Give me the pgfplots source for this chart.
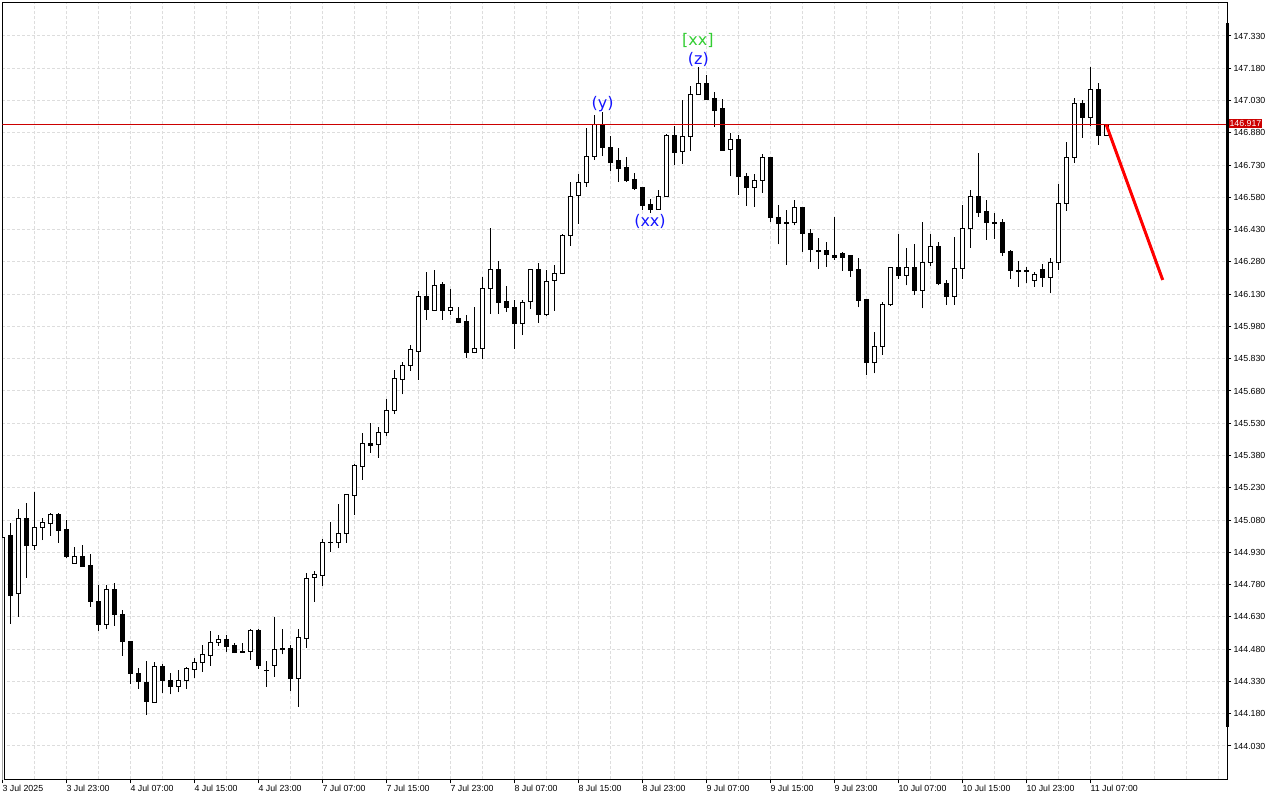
\documentclass[border=0pt]{standalone}
\usepackage{pgfplots}
\pgfplotsset{compat=1.18}
\usepackage{pgfplotstable}
\usepackage{fontspec}
\setmainfont{Liberation Sans}
\newfontfamily\annfont{DejaVu Sans}
\definecolor{gridc}{RGB}{221,221,221}
\definecolor{pricered}{RGB}{204,0,0}
\definecolor{fcred}{RGB}{255,0,0}
\definecolor{lblue}{RGB}{20,20,255}
\definecolor{lgreen}{RGB}{50,205,50}

\pgfplotstableread{
i o h l c
-1 143.800 145.030 143.700 145.001
0 145.006 145.068 144.597 144.729
1 144.738 145.132 144.631 145.088
2 145.088 145.159 144.812 144.961
3 144.963 145.209 144.941 145.046
4 145.046 145.090 144.987 145.070
5 145.065 145.113 145.008 145.104
6 145.104 145.113 144.975 145.031
7 145.037 145.080 144.905 144.910
8 144.879 144.955 144.879 144.912
9 144.912 144.964 144.864 144.865
10 144.870 144.922 144.678 144.702
11 144.702 144.778 144.566 144.596
12 144.596 144.778 144.572 144.755
13 144.755 144.788 144.589 144.640
14 144.642 144.662 144.450 144.515
15 144.516 144.516 144.317 144.368
16 144.369 144.391 144.296 144.331
17 144.323 144.425 144.176 144.238
18 144.233 144.419 144.233 144.400
19 144.400 144.411 144.278 144.334
20 144.335 144.369 144.270 144.307
21 144.307 144.383 144.279 144.335
22 144.335 144.399 144.296 144.391
23 144.386 144.437 144.348 144.416
24 144.416 144.499 144.376 144.453
25 144.451 144.565 144.403 144.512
26 144.512 144.546 144.496 144.526
27 144.526 144.546 144.468 144.493
28 144.495 144.507 144.461 144.464
29 144.470 144.509 144.465 144.465
30 144.470 144.574 144.431 144.565
31 144.565 144.574 144.388 144.403
32 144.383 144.425 144.306 144.380
33 144.405 144.631 144.352 144.479
34 144.478 144.574 144.456 144.481
35 144.481 144.499 144.287 144.343
36 144.343 144.574 144.213 144.532
37 144.530 144.833 144.487 144.809
38 144.814 144.843 144.701 144.828
39 144.822 144.992 144.775 144.977
40 144.977 145.073 144.933 144.978
41 144.977 145.155 144.949 145.018
42 145.017 145.200 144.975 145.197
43 145.194 145.339 145.104 145.335
44 145.330 145.485 145.268 145.434
45 145.434 145.531 145.393 145.427
46 145.432 145.513 145.370 145.488
47 145.488 145.643 145.472 145.590
48 145.590 145.778 145.572 145.736
49 145.734 145.815 145.664 145.799
50 145.798 145.894 145.775 145.871
51 145.864 146.145 145.733 146.120
52 146.117 146.233 146.010 146.058
53 146.056 146.242 146.052 146.171
54 146.173 146.187 146.010 146.053
55 146.053 146.154 146.034 146.066
56 146.018 146.070 145.994 145.999
57 146.001 146.033 145.835 145.858
58 145.860 146.070 145.855 145.877
59 145.877 146.210 145.827 146.157
60 146.157 146.438 146.039 146.245
61 146.245 146.284 146.039 146.091
62 146.094 146.168 146.046 146.069
63 146.070 146.103 145.875 145.993
64 145.993 146.105 145.940 146.092
65 146.095 146.245 146.061 146.245
66 146.245 146.275 145.998 146.035
67 146.035 146.242 146.030 146.190
68 146.194 146.266 146.054 146.227
69 146.226 146.410 146.222 146.405
70 146.404 146.650 146.356 146.586
71 146.589 146.689 146.457 146.650
72 146.650 146.904 146.630 146.771
73 146.771 146.963 146.754 146.920
74 146.920 146.977 146.772 146.811
75 146.814 146.865 146.704 146.741
76 146.749 146.809 146.651 146.713
77 146.718 146.768 146.653 146.658
78 146.661 146.692 146.616 146.620
79 146.628 146.628 146.520 146.541
80 146.549 146.572 146.507 146.523
81 146.524 146.614 146.524 146.585
82 146.585 146.875 146.585 146.868
83 146.868 146.912 146.730 146.788
84 146.792 147.033 146.737 146.864
85 146.862 147.098 146.796 147.059
86 147.059 147.186 147.059 147.107
87 147.107 147.149 147.036 147.037
88 147.040 147.071 146.906 146.983
89 146.991 147.036 146.799 146.800
90 146.803 146.879 146.679 146.847
91 146.847 146.868 146.593 146.676
92 146.679 146.692 146.541 146.625
93 146.625 146.689 146.537 146.659
94 146.659 146.782 146.602 146.766
95 146.766 146.769 146.466 146.486
96 146.487 146.545 146.362 146.458
97 146.464 146.521 146.267 146.459
98 146.462 146.566 146.450 146.534
99 146.534 146.534 146.328 146.413
100 146.414 146.431 146.278 146.337
101 146.335 146.390 146.249 146.329
102 146.331 146.373 146.258 146.315
103 146.312 146.487 146.290 146.300
104 146.317 146.328 146.239 146.300
105 146.308 146.312 146.211 146.239
106 146.244 146.300 146.069 146.101
107 146.103 146.106 145.753 145.812
108 145.812 145.954 145.762 145.889
109 145.889 146.094 145.849 146.083
110 146.080 146.258 146.077 146.255
111 146.255 146.410 146.202 146.218
112 146.218 146.345 146.171 146.255
113 146.255 146.363 146.125 146.148
114 146.148 146.465 146.064 146.278
115 146.278 146.410 146.263 146.352
116 146.352 146.373 146.171 146.179
117 146.180 146.196 146.081 146.118
118 146.118 146.397 146.081 146.250
119 146.250 146.545 146.202 146.436
120 146.436 146.614 146.346 146.582
121 146.582 146.786 146.490 146.509
122 146.512 146.568 146.383 146.462
123 146.464 146.507 146.388 146.459
124 146.464 146.481 146.307 146.323
125 146.326 146.334 146.202 146.241
126 146.239 146.284 146.165 146.237
127 146.238 146.258 146.180 146.237
128 146.194 146.233 146.165 146.222
129 146.245 146.270 146.165 146.208
130 146.208 146.300 146.134 146.278
131 146.275 146.642 146.242 146.552
132 146.552 146.837 146.518 146.766
133 146.766 147.040 146.741 147.017
134 147.017 147.033 146.856 146.952
135 146.952 147.187 146.913 147.082
136 147.082 147.110 146.825 146.868
137 146.868 146.919 146.864 146.917
}\candles

\begin{document}
\begin{tikzpicture}
\useasboundingbox (0pt,0pt) rectangle (960pt,600pt);
\begin{axis}[
  at={(1.725pt,15.525pt)}, anchor=south west,
  scale only axis, width=918.75pt, height=582.6pt,
  xmin=-1, xmax=152.125, ymin=143.8751, ymax=147.4857,
  axis line style={black, line width=0.75pt},
  tick align=outside,
  major tick length=3pt,
  minor tick length=0pt,
  tick style={black, line width=0.75pt},
  xtick pos=bottom, ytick pos=right,
  yticklabel pos=right,
  xtick={-1,7,...,135},
  xticklabels={3 Jul 2025,3 Jul 23:00,4 Jul 07:00,4 Jul 15:00,4 Jul 23:00,7 Jul 07:00,7 Jul 15:00,7 Jul 23:00,8 Jul 07:00,8 Jul 15:00,8 Jul 23:00,9 Jul 07:00,9 Jul 15:00,9 Jul 23:00,10 Jul 07:00,10 Jul 15:00,10 Jul 23:00,11 Jul 07:00},
  minor xtick={3,7,...,151},
  ytick={144.03,144.18,144.33,144.48,144.63,144.78,144.93,145.08,145.23,145.38,145.53,145.68,145.83,145.98,146.13,146.28,146.43,146.58,146.73,146.88,147.03,147.18,147.33},
  yticklabels={144.030,144.180,144.330,144.480,144.630,144.780,144.930,145.080,145.230,145.380,145.530,145.680,145.830,145.980,146.130,146.280,146.430,146.580,146.730,146.880,147.030,147.180,147.330},
  xminorgrids=true, ymajorgrids=true, xmajorgrids=false,
  major grid style={gridc, dash pattern=on 2.25pt off 1.5pt, line width=0.75pt},
  minor grid style={gridc, dash pattern=on 2.25pt off 1.5pt, line width=0.75pt},
  xticklabel style={anchor=north west, inner sep=0pt, font=\fontsize{6.6}{7}\selectfont, yshift=-1.5pt},
  yticklabel style={anchor=west, inner sep=0pt, font=\fontsize{6.6}{7}\selectfont, xshift=1.5pt},
]
% wicks
\addplot[draw=none, mark=none, error bars/.cd, y dir=plus, y explicit, error mark=none,
  error bar style={draw=black, line width=0.75pt}]
  table[x=i, y=l, y error plus expr={\thisrow{h}-\thisrow{l}}] {\candles};
% bodies (outline / filled)
\addplot[draw=none, mark=none, error bars/.cd, y dir=plus, y explicit, error mark=none,
  error bar style={draw=black, line width=3.75pt}]
  table[x=i, y expr={min(\thisrow{o},\thisrow{c})-0.00232}, y error plus expr={abs(\thisrow{o}-\thisrow{c})+0.00465}] {\candles};
% white interior of bullish bodies
\addplot[draw=none, mark=none, restrict expr to domain={\thisrow{c}-\thisrow{o}}{0.006:10},
  error bars/.cd, y dir=plus, y explicit, error mark=none,
  error bar style={draw=white, line width=2.25pt}]
  table[x=i, y expr={\thisrow{o}+0.00232}, y error plus expr={\thisrow{c}-\thisrow{o}-0.00465}] {\candles};
% current price line
\addplot[pricered, line width=0.75pt] coordinates {(-1,146.917) (152.125,146.917)};
% forecast
\addplot[fcred, line width=2.25pt] coordinates {(137,146.917) (144.05,146.196)};
% wave labels
\node[font=\annfont\fontsize{12}{14}\selectfont, text=lblue] at (axis cs:74.03,147.012) {(y)};
\node[font=\annfont\fontsize{12}{14}\selectfont, text=lblue] at (axis cs:86.0,147.223) {(z)};
\node[font=\annfont\fontsize{12}{14}\selectfont, text=lgreen] at (axis cs:85.94,147.309) {[xx]};
\node[font=\annfont\fontsize{12}{14}\selectfont, text=lblue] at (axis cs:79.96,146.466) {(xx)};
\end{axis}
\draw[black, line width=2.25pt] (920.6pt,54.975pt) -- (920.6pt,582.75pt);
\node[fill=pricered, text=white, anchor=west, inner sep=0pt, minimum height=6.8pt, minimum width=24.6pt, font=\fontsize{6.6}{7}\selectfont] at (921.6pt,507.49pt) {146.917};
\end{tikzpicture}
\end{document}
